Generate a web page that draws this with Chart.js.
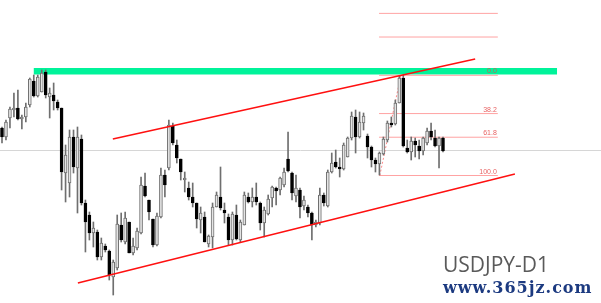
<!DOCTYPE html>
<html>
<head>
<meta charset="utf-8">
<script src="https://cdn.jsdelivr.net/npm/chart.js@4.4.1/dist/chart.umd.min.js"></script>
<style>
  html, body { margin: 0; padding: 0; background: #fff; }
  #wrap { width: 601px; height: 303px; position: relative; }
</style>
</head>
<body>
<div id="wrap"><canvas id="chart"></canvas></div>
<script>
/* USDJPY daily candles.
   Levels are measured down from the top of the pane, so the y scale is reversed
   (a smaller number is a higher price). */
const symbolLabel = 'USDJPY-D1';
const siteLabel   = 'www.365jz.com';

const open  = [128,137,118,110,108,119,117,105, 81, 96, 92, 72, 97, 95,102,108,173,183,137,168,
               139,203,215,233,232,257,246,251,277,268,225,242,222,253,248,233,186,200,219,245,
               217,175,168,126,145,159,180,188,197,203,220,217,244,237,207,197,210,217,240,215,
               240,225,197,202,197,203,223,214,198,188,190,185,159,173,196,190,206,207,213,225,
               223,195,206,172,162,167,169,157,138,117,137,123,136,147,160,164,154,140,123,124,
               103, 78,148,152,141,146,151,143,131,138,146,138];
const high  = [127,120,107, 93, 90,115,103, 78, 75, 75, 70, 70, 88, 83,100,108,145,130,130,127,
               135,200,212,222,230,238,244,250,260,215,213,212,222,238,228,177,173,200,219,213,
               168,170,120,123,140,159,172,182,183,203,207,212,235,203,192,167,203,214,212,205,
               220,192,193,188,183,202,207,195,186,187,177,168,132,172,175,188,196,205,212,220,
               188,193,170,153,150,158,143,137,112,110,112,113,134,146,158,152,137,121,117,100,
                76, 75,140,137,138,140,137,128,123,130,137,137];
const low   = [143,140,128,117,120,129,122,107, 97, 97, 92, 98,118,110,110,190,202,197,173,213,
               205,252,240,247,260,260,252,280,295,270,242,244,253,255,250,234,197,220,247,246,
               218,197,170,145,163,180,192,200,207,228,233,242,247,248,207,210,223,245,245,240,
               242,225,203,207,205,230,237,215,207,205,195,187,172,200,202,218,210,217,240,227,
               225,206,207,173,168,177,170,157,140,153,138,130,158,167,172,175,155,142,127,125,
               103,147,153,160,157,159,155,145,140,147,168,152];
const close = [137,122,109,108,119,117,107, 79, 96, 77, 73, 95, 93,101,108,172,155,137,167,137,
               203,222,233,228,257,243,250,275,262,224,240,218,253,246,231,185,196,212,245,216,
               175,185,125,143,158,172,178,197,203,219,213,242,236,207,195,208,213,240,214,239,
               222,195,202,197,202,223,210,199,187,191,178,172,171,193,188,207,200,213,225,222,
               195,203,172,163,167,169,145,138,116,137,122,116,147,160,164,153,139,123,125,103,
                78,146,152,141,145,151,138,131,137,146,138,151];

// trend channel ends, [candle index, level]
const channelUpper = [[27.9, 139], [119.1, 59]];
const channelLower = [[19.1, 283], [129.1, 174]];
// resistance zone
const zoneSpan  = [8.0, 139.7];
const zoneLevel = 71.3;
// current price line
const priceLine = 150.5;

// fibonacci retracement drawn from the swing low to the swing high
const fibFrom   = [95.1, 175.5];   // swing low
const fibTo     = [100.4, 75.3];   // swing high
const fibSpan   = [94.9, 124.8];
const fibLevels = [-61.8, -38.2, 0, 38.2, 61.8, 100];
const fibLabels = ['', '', '0.0', '38.2', '61.8', '100.0'];

const fibY = lv => fibTo[1] + (fibFrom[1] - fibTo[1]) * lv / 100;

const segment = (pts, color, width, order, dash) => ({
  type: 'line',
  data: pts.map(p => ({ x: p[0], y: p[1] })),
  borderColor: color,
  borderWidth: width,
  borderDash: dash || [],
  pointRadius: 0,
  fill: false,
  tension: 0,
  order,
});

const bear = close.map((c, i) => c > open[i]);

const datasets = [
  segment([[zoneSpan[0], zoneLevel], [zoneSpan[1], zoneLevel]], '#00f39a', 6.5, 10),
  segment([[-2, priceLine], [155, priceLine]], '#d6d6d6', 1, 9),
  ...fibLevels.map(lv => segment([[fibSpan[0], fibY(lv)], [fibSpan[1], fibY(lv)]], '#ffa3a3', 1, 8)),
  segment([fibFrom, fibTo], '#ff8a8a', 1, 7, [2, 2]),
  {
    type: 'bar',
    data: open.map((o, i) => ({ x: i, y: [low[i], high[i]] })),
    backgroundColor: '#6f6f6f',
    barThickness: 1,
    grouped: false,
    order: 5,
  },
  {
    type: 'bar',
    data: open.map((o, i) => ({ x: i, y: [o, close[i]] })),
    backgroundColor: bear.map(b => b ? '#000000' : '#e4e4e4'),
    borderColor: bear.map(b => b ? '#000000' : '#6f6f6f'),
    borderWidth: 1,
    borderSkipped: false,
    barThickness: 3,
    grouped: false,
    order: 4,
  },
  segment(channelUpper, '#ff1010', 1.5, 1),
  segment(channelLower, '#ff1010', 1.5, 1),
];

const labelsPlugin = {
  id: 'labels',
  afterDatasetsDraw(chart) {
    const { ctx, scales: { x, y } } = chart;
    ctx.save();
    ctx.font = '7px "Liberation Sans"';
    ctx.fillStyle = 'rgba(228,70,70,0.85)';
    ctx.textAlign = 'right';
    ctx.textBaseline = 'alphabetic';
    fibLevels.forEach((lv, i) => {
      if (!fibLabels[i]) return;
      ctx.fillText(fibLabels[i], x.getPixelForValue(fibSpan[1]) - 1, y.getPixelForValue(fibY(lv)) - 2);
    });

    ctx.textAlign = 'left';
    ctx.font = '21px "Open Sans"';
    ctx.fillStyle = '#5a5a5a';
    ctx.fillText(symbolLabel, 443, 272);

    ctx.font = 'bold 16px "DejaVu Serif"';
    ctx.letterSpacing = '1px';
    ctx.fillStyle = '#1c3a80';
    ctx.fillText(siteLabel, 443, 293);
    ctx.restore();
  },
};

new Chart(document.getElementById('chart'), {
  type: 'bar',
  data: { datasets },
  options: {
    responsive: true,
    maintainAspectRatio: false,
    animation: false,
    events: [],
    layout: { padding: 0 },
    plugins: { legend: { display: false }, tooltip: { enabled: false } },
    scales: {
      x: { type: 'linear', min: -0.503, max: 150.77, offset: false, display: false },
      y: { min: 0, max: 303, reverse: true, display: false },
    },
  },
  plugins: [labelsPlugin],
});
</script>
</body>
</html>
